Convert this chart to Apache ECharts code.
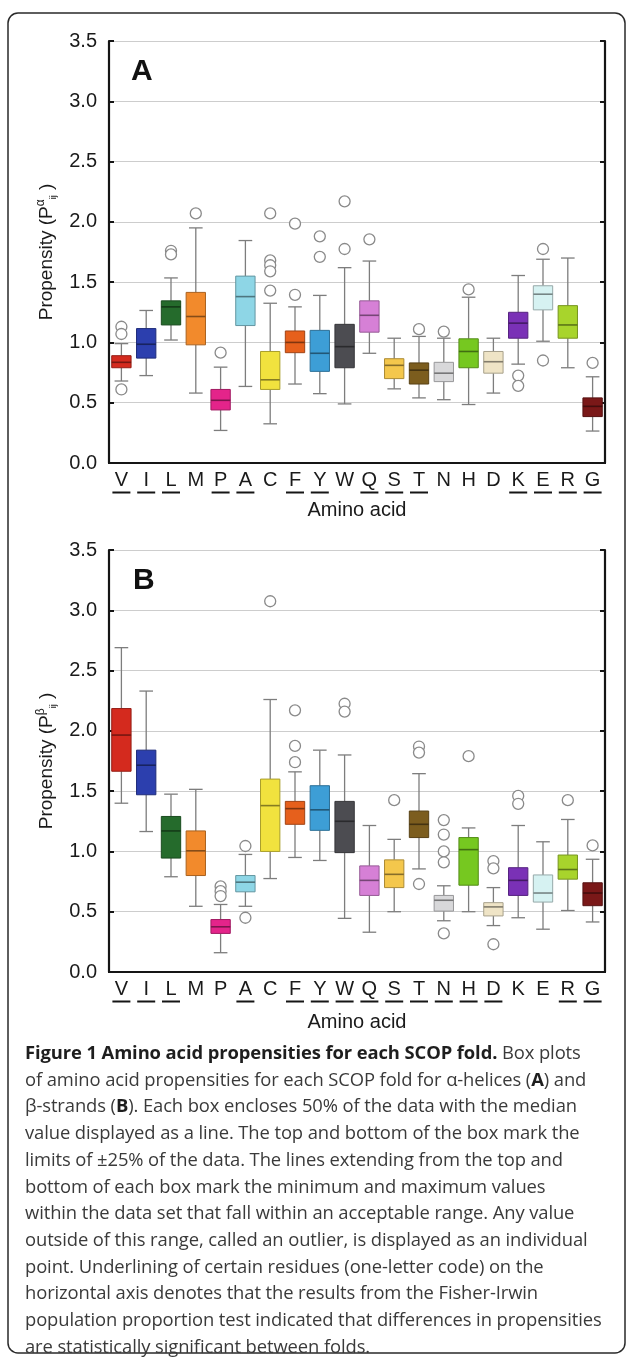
<!DOCTYPE html>
<html>
<head>
<meta charset="utf-8">
<title>Amino acid propensities</title>
<script src="https://cdn.jsdelivr.net/npm/echarts@6/dist/echarts.min.js"></script>
<style>
  html, body { margin: 0; padding: 0; background: #fff; }
  #wrap { position: relative; width: 627px; height: 1363px; overflow: hidden; }
  #chart { position: absolute; left: 0; top: 0; width: 627px; height: 1363px; }
  #caption { position: absolute; left: 25px; top: 1039px; font-family: 'Open Sans', sans-serif;
             font-size: 18.4px; line-height: 26.7px; color: #3a3a3a; white-space: nowrap; letter-spacing: -0.1px; }
  #caption b { color: #1e1e1e; font-weight: 700; }
</style>
</head>
<body>
<div id="wrap">
  <div id="chart"></div>
  <div id="caption">
    <div><b>Figure 1 Amino acid propensities for each SCOP fold.</b> Box plots</div>
    <div>of amino acid propensities for each SCOP fold for α-helices (<b>A</b>) and</div>
    <div>β-strands (<b>B</b>). Each box encloses 50% of the data with the median</div>
    <div>value displayed as a line. The top and bottom of the box mark the</div>
    <div>limits of ±25% of the data. The lines extending from the top and</div>
    <div>bottom of each box mark the minimum and maximum values</div>
    <div>within the data set that fall within an acceptable range. Any value</div>
    <div>outside of this range, called an outlier, is displayed as an individual</div>
    <div>point. Underlining of certain residues (one-letter code) on the</div>
    <div>horizontal axis denotes that the results from the Fisher-Irwin</div>
    <div>population proportion test indicated that differences in propensities</div>
    <div>are statistically significant between folds.</div>
  </div>
</div>
<script>
// Amino acids on the x axis (one-letter code)
const aminoAcids = ['V', 'I', 'L', 'M', 'P', 'A', 'C', 'F', 'Y', 'W', 'Q', 'S', 'T', 'N', 'H', 'D', 'K', 'E', 'R', 'G'];
const yTicks = [0, 0.5, 1.0, 1.5, 2.0, 2.5, 3.0, 3.5];

// Underlined residues (significant differences between folds)
const helixUnderlined = ['V', 'I', 'L', 'P', 'A', 'F', 'Y', 'Q', 'S', 'T', 'K', 'E', 'R', 'G'];
const strandUnderlined = ['V', 'I', 'L', 'A', 'F', 'Y', 'W', 'Q', 'S', 'T', 'N', 'H', 'D', 'R', 'G'];

// Panel A - alpha helices
const helixLow  = [0.68, 0.725, 1.02, 0.58, 0.27, 0.635, 0.325, 0.655, 0.575, 0.49, 0.91, 0.615, 0.54, 0.525, 0.485, 0.58, 0.82, 1.01, 0.79, 0.265];
const helixQ1   = [0.79, 0.87, 1.145, 0.98, 0.44, 1.14, 0.61, 0.915, 0.76, 0.79, 1.085, 0.70, 0.655, 0.675, 0.79, 0.745, 1.035, 1.27, 1.035, 0.385];
const helixMed  = [0.835, 0.985, 1.295, 1.215, 0.52, 1.38, 0.69, 1.0, 0.91, 0.965, 1.225, 0.81, 0.77, 0.745, 0.925, 0.84, 1.16, 1.40, 1.145, 0.47];
const helixQ3   = [0.89, 1.115, 1.345, 1.415, 0.61, 1.55, 0.925, 1.095, 1.10, 1.15, 1.345, 0.865, 0.83, 0.835, 1.03, 0.925, 1.25, 1.47, 1.305, 0.54];
const helixHigh = [0.99, 1.265, 1.535, 1.95, 0.795, 1.845, 1.325, 1.295, 1.39, 1.62, 1.675, 1.035, 1.05, 1.035, 1.375, 1.035, 1.555, 1.69, 1.70, 0.715];
const helixOutliers = [
    ['V', 1.13], ['V', 1.07], ['V', 0.61], ['L', 1.76], ['L', 1.73], ['M', 2.07], ['P', 0.915],
    ['C', 2.07], ['C', 1.68], ['C', 1.64], ['C', 1.59], ['C', 1.43], ['F', 1.985], ['F', 1.395],
    ['Y', 1.88], ['Y', 1.71], ['W', 2.17], ['W', 1.775], ['Q', 1.855], ['T', 1.11], ['N', 1.09],
    ['H', 1.44], ['K', 0.725], ['K', 0.64], ['E', 1.775], ['E', 0.85], ['G', 0.83]
];

// Panel B - beta strands
const strandLow  = [1.40, 1.165, 0.79, 0.545, 0.16, 0.545, 0.775, 0.95, 0.925, 0.445, 0.33, 0.50, 0.855, 0.425, 0.50, 0.385, 0.45, 0.355, 0.51, 0.415];
const strandQ1   = [1.665, 1.47, 0.945, 0.80, 0.32, 0.665, 1.0, 1.225, 1.175, 0.99, 0.635, 0.70, 1.115, 0.505, 0.72, 0.465, 0.635, 0.58, 0.77, 0.55];
const strandMed  = [1.965, 1.715, 1.17, 1.005, 0.375, 0.745, 1.38, 1.355, 1.345, 1.25, 0.76, 0.81, 1.225, 0.595, 1.015, 0.54, 0.76, 0.655, 0.85, 0.655];
const strandQ3   = [2.185, 1.84, 1.29, 1.17, 0.435, 0.80, 1.60, 1.415, 1.545, 1.415, 0.88, 0.93, 1.335, 0.635, 1.115, 0.575, 0.865, 0.805, 0.97, 0.74];
const strandHigh = [2.69, 2.33, 1.475, 1.515, 0.56, 0.975, 2.26, 1.66, 1.84, 1.80, 1.215, 1.10, 1.645, 0.715, 1.195, 0.70, 1.215, 1.08, 1.265, 0.935];
const strandOutliers = [
    ['P', 0.71], ['P', 0.67], ['P', 0.63], ['A', 1.045], ['A', 0.45], ['C', 3.075],
    ['F', 2.17], ['F', 1.875], ['F', 1.74], ['W', 2.225], ['W', 2.16], ['S', 1.425],
    ['T', 1.87], ['T', 1.82], ['T', 0.73], ['N', 1.26], ['N', 1.14], ['N', 1.0], ['N', 0.91], ['N', 0.32],
    ['H', 1.79], ['D', 0.92], ['D', 0.86], ['D', 0.23], ['K', 1.46], ['K', 1.395], ['R', 1.425], ['G', 1.05]
];

// box colours, one per amino acid
const boxColors = ['#d42a1e', '#2c3fae', '#256b2c', '#f28a2c', '#e4248a', '#8ed6e6', '#f1e23e', '#e6601c', '#3d9ed6', '#4c4c51',
                   '#d680d6', '#f4c74c', '#7c5d1e', '#d8d8da', '#76c820', '#efe4c6', '#7a31b6', '#d6f2f2', '#a8d42c', '#7a1818'];

const FONT = 'Liberation Sans';

function darken(hex, f) {
    const n = parseInt(hex.slice(1), 16);
    const r = Math.round(((n >> 16) & 255) * f);
    const g = Math.round(((n >> 8) & 255) * f);
    const b = Math.round((n & 255) * f);
    return 'rgb(' + r + ',' + g + ',' + b + ')';
}

// Build [index, low, q1, median, q3, high] rows for the custom series
function boxRows(low, q1, med, q3, high) {
    return aminoAcids.map((a, i) => [i, low[i], q1[i], med[i], q3[i], high[i]]);
}

function outlierRows(list) {
    return list.map(o => [aminoAcids.indexOf(o[0]), o[1]]);
}

// Draw whisker, caps, box and median line for one amino acid
function renderBox(params, api) {
    const idx = api.value(0);
    const band = api.size([1, 0])[0];
    const boxW = band * 0.78;
    const capW = band * 0.55;
    const pLow = api.coord([idx, api.value(1)]);
    const pQ1 = api.coord([idx, api.value(2)]);
    const pMed = api.coord([idx, api.value(3)]);
    const pQ3 = api.coord([idx, api.value(4)]);
    const pHigh = api.coord([idx, api.value(5)]);
    const cx = pMed[0];
    const fill = boxColors[idx];
    const whisker = { stroke: '#7d7d7d', lineWidth: 1.3 };
    return {
        type: 'group',
        children: [
            { type: 'line', shape: { x1: cx, y1: pHigh[1], x2: cx, y2: pQ3[1] }, style: whisker },
            { type: 'line', shape: { x1: cx, y1: pQ1[1], x2: cx, y2: pLow[1] }, style: whisker },
            { type: 'line', shape: { x1: cx - capW / 2, y1: pHigh[1], x2: cx + capW / 2, y2: pHigh[1] }, style: whisker },
            { type: 'line', shape: { x1: cx - capW / 2, y1: pLow[1], x2: cx + capW / 2, y2: pLow[1] }, style: whisker },
            {
                type: 'rect',
                shape: { x: cx - boxW / 2, y: pQ3[1], width: boxW, height: pQ1[1] - pQ3[1] },
                style: { fill: fill, stroke: darken(fill, 0.7), lineWidth: 1 }
            },
            {
                type: 'line',
                shape: { x1: cx - boxW / 2, y1: pMed[1], x2: cx + boxW / 2, y2: pMed[1] },
                style: { stroke: darken(fill, 0.55), lineWidth: 1.6 }
            }
        ]
    };
}

function bottomAxis(gridIndex, underlined, gap) {
    return {
        type: 'category',
        gridIndex: gridIndex,
        data: aminoAcids,
        position: 'bottom',
        boundaryGap: true,
        name: 'Amino acid',
        nameLocation: 'middle',
        nameGap: gap,
        nameTextStyle: { fontFamily: FONT, fontSize: 20, color: '#1a1a1a' },
        axisLine: { lineStyle: { color: '#151515', width: 2.2 } },
        axisTick: { inside: true, length: 5, lineStyle: { color: '#151515', width: 2 } },
        axisLabel: {
            interval: 0,
            margin: 6,
            fontFamily: FONT,
            fontSize: 20,
            color: '#1a1a1a',
            lineHeight: 22,
            formatter: v => v + '\n' + (underlined.includes(v) ? '{u| }' : '{n| }'),
            rich: {
                u: { width: 18, height: 2, lineHeight: 3, fontSize: 2, backgroundColor: '#151515' },
                n: { width: 18, height: 2, lineHeight: 3, fontSize: 2 }
            }
        },
        splitLine: { show: false }
    };
}

function topAxis(gridIndex) {
    return {
        type: 'category',
        gridIndex: gridIndex,
        data: aminoAcids,
        position: 'top',
        boundaryGap: true,
        axisLine: { lineStyle: { color: '#151515', width: 2.2 } },
        axisTick: { inside: true, length: 5, lineStyle: { color: '#151515', width: 2 } },
        axisLabel: { show: false },
        splitLine: { show: false }
    };
}

function leftAxis(gridIndex, sym) {
    return {
        type: 'value',
        gridIndex: gridIndex,
        position: 'left',
        min: yTicks[0],
        max: yTicks[yTicks.length - 1],
        interval: 0.5,
        name: 'Propensity (P{sup|' + sym + '}{sub|ij} )',
        nameLocation: 'middle',
        nameRotate: 90,
        nameGap: 50,
        nameTextStyle: {
            fontFamily: FONT, fontSize: 19, color: '#1a1a1a',
            rich: {
                sup: { fontFamily: FONT, fontSize: 12, color: '#1a1a1a', padding: [0, 0, 12, 0] },
                sub: { fontFamily: FONT, fontSize: 9, color: '#1a1a1a', padding: [14, 0, 0, 0] }
            }
        },
        axisLine: { show: true, lineStyle: { color: '#151515', width: 2.2 } },
        axisTick: { show: true, inside: true, length: 5, lineStyle: { color: '#151515', width: 2 } },
        axisLabel: { margin: 12, fontFamily: FONT, fontSize: 20, color: '#1a1a1a', formatter: v => v.toFixed(1) },
        splitLine: { show: true, lineStyle: { color: '#cdcdcd', width: 1.2 } }
    };
}

function rightAxis(gridIndex) {
    return {
        type: 'value',
        gridIndex: gridIndex,
        position: 'right',
        min: yTicks[0],
        max: yTicks[yTicks.length - 1],
        interval: 0.5,
        axisLine: { show: true, lineStyle: { color: '#151515', width: 2.2 } },
        axisTick: { show: true, inside: true, length: 5, lineStyle: { color: '#151515', width: 2 } },
        axisLabel: { show: false },
        splitLine: { show: false }
    };
}

function outlierSeries(axisIdx, list) {
    return {
        type: 'scatter',
        xAxisIndex: axisIdx,
        yAxisIndex: axisIdx,
        symbol: 'circle',
        symbolSize: 11,
        itemStyle: { color: '#ffffff', borderColor: '#8a8a8a', borderWidth: 1.3, opacity: 1 },
        data: outlierRows(list),
        z: 5
    };
}

const chart = echarts.init(document.getElementById('chart'), null, { renderer: 'canvas' });

const options = {
    animation: false,
    backgroundColor: '#ffffff',
    title: [
        { text: 'A', left: 131, top: 57, padding: 0, textStyle: { fontFamily: FONT, fontSize: 30, fontWeight: 'bold', color: '#111' } },
        { text: 'B', left: 133, top: 566, padding: 0, textStyle: { fontFamily: FONT, fontSize: 30, fontWeight: 'bold', color: '#111' } }
    ],
    grid: [
        { left: 109, top: 41, width: 496, height: 422, outerBoundsMode: 'none' },
        { left: 109, top: 550, width: 496, height: 422, outerBoundsMode: 'none' }
    ],
    xAxis: [bottomAxis(0, helixUnderlined, 37), topAxis(0), bottomAxis(1, strandUnderlined, 40), topAxis(1)],
    yAxis: [leftAxis(0, 'α'), rightAxis(0), leftAxis(1, 'β'), rightAxis(1)],
    graphic: [
        {
            type: 'rect',
            shape: { x: 8, y: 13, width: 617, height: 1340, r: 10 },
            style: { fill: 'none', stroke: '#2a2a2a', lineWidth: 1.5 },
            z: 0
        }
    ],
    series: [
        {
            type: 'custom',
            xAxisIndex: 0,
            yAxisIndex: 0,
            renderItem: renderBox,
            encode: { x: 0, y: [1, 2, 3, 4, 5] },
            data: boxRows(helixLow, helixQ1, helixMed, helixQ3, helixHigh),
            z: 3
        },
        outlierSeries(0, helixOutliers),
        {
            type: 'custom',
            xAxisIndex: 2,
            yAxisIndex: 2,
            renderItem: renderBox,
            encode: { x: 0, y: [1, 2, 3, 4, 5] },
            data: boxRows(strandLow, strandQ1, strandMed, strandQ3, strandHigh),
            z: 3
        },
        outlierSeries(2, strandOutliers)
    ]
};

chart.setOption(options);
</script>
</body>
</html>
